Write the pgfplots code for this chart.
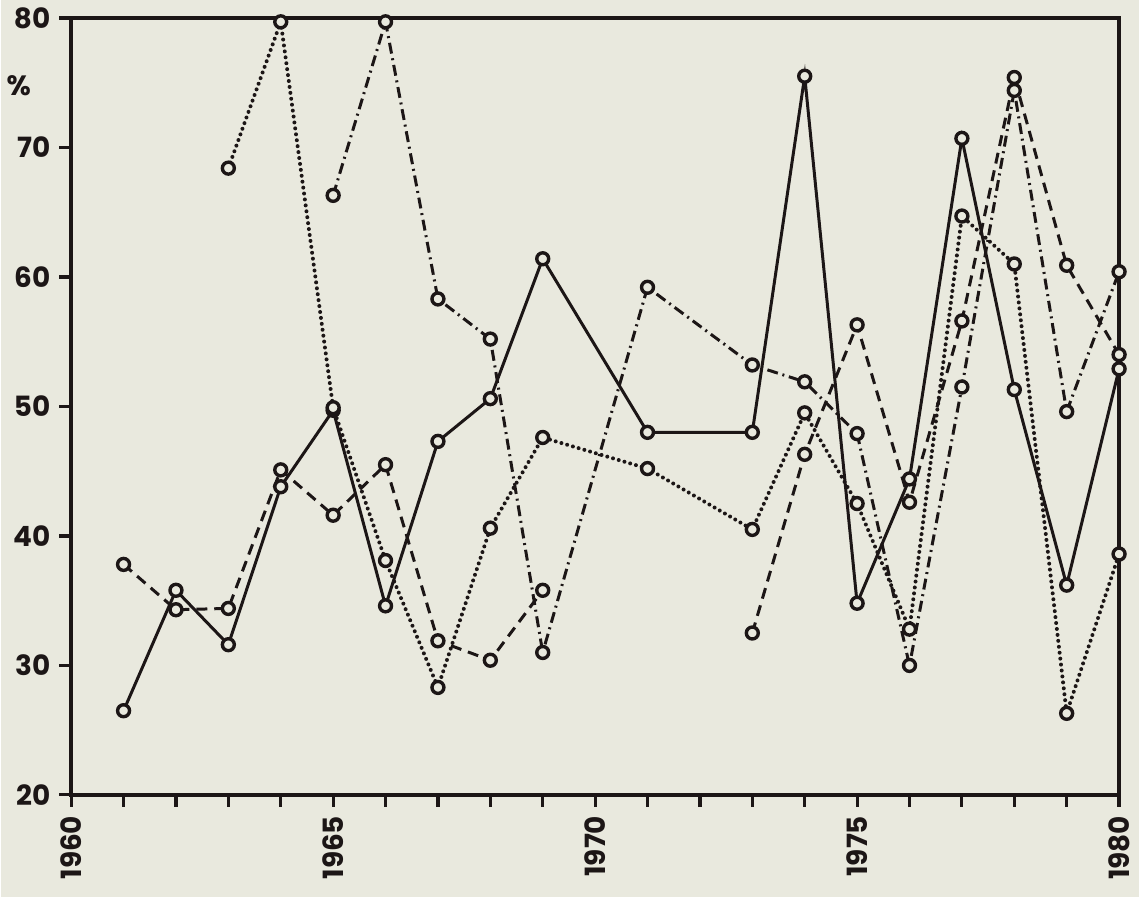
\documentclass[border=0pt]{standalone}
\usepackage{fontspec}
\setmainfont{Poppins}
\usepackage{pgfplots}
\pgfplotsset{compat=1.18}
\definecolor{paper}{RGB}{233,233,222}
\definecolor{ink}{RGB}{28,22,22}
\tikzset{ser/.style={line width=1.5pt, draw=ink, mark=*, mark size=3.0pt,
     mark options={solid, fill=paper, draw=ink, line width=1.7pt}}}
\begin{document}
\begin{tikzpicture}
\fill[paper] (-35pt,-51.5pt) rectangle (536pt,399pt);
\begin{axis}[
  scale only axis, width=526pt, height=390pt,
  xmin=1960, xmax=1980, ymin=20, ymax=80,
  axis line style={line width=1.8pt, draw=ink},
  xtick={1960,1965,1970,1975,1980},
  minor xtick={1961,1962,1963,1964,1966,1967,1968,1969,1971,1972,1973,1974,1976,1977,1978,1979},
  ytick={20,30,40,50,60,70,80},
  tick align=outside, xtick pos=bottom, ytick pos=left,
  major tick length=6pt, minor tick length=6pt,
  every tick/.style={line width=1.6pt, draw=ink},
  minor tick style={line width=1.6pt, draw=ink},
  /pgf/number format/assume math mode=true,
  /pgf/number format/1000 sep={},
  ticklabel style={font=\fontsize{14}{16}\bfseries, text=ink},
  xticklabel style={rotate=90, anchor=east, xshift=-1pt},
  yticklabel style={xshift=-1pt},
  clip=false,
]
% solid
\addplot[ser] coordinates {(1961,26.5) (1962,35.8) (1963,31.6) (1964,43.8) (1965,49.7) (1966,34.6) (1967,47.3) (1968,50.6) (1969,61.4) (1971,48.0) (1973,48.0) (1974,75.5) (1975,34.8) (1976,44.4) (1977,70.7) (1978,51.3) (1979,36.2) (1980,52.9)};
% dashed
\addplot[ser, dash pattern=on 5.5pt off 3.5pt] coordinates {(1961,37.8) (1962,34.3) (1963,34.4) (1964,45.1) (1965,41.6) (1966,45.5) (1967,31.9) (1968,30.4) (1969,35.8)};
\addplot[ser, dash pattern=on 5.5pt off 3.5pt] coordinates {(1973,32.5) (1974,46.3) (1975,56.3) (1976,42.6) (1977,56.6) (1978,75.4) (1979,60.9) (1980,54.0)};
% dotted
\addplot[ser, line width=2pt, line cap=round, dash pattern=on 0pt off 3pt] coordinates {(1963,68.4) (1964,79.7) (1965,49.9) (1966,38.1) (1967,28.3) (1968,40.6) (1969,47.6) (1971,45.2) (1973,40.5) (1974,49.5) (1975,42.5) (1976,32.8) (1977,64.7) (1978,61.0) (1979,26.3) (1980,38.6)};
% dash-dot
\addplot[ser, dash pattern=on 5.5pt off 2.4pt on 1pt off 2.4pt] coordinates {(1965,66.3) (1966,79.7) (1967,58.3) (1968,55.2) (1969,31.0) (1971,59.2) (1973,53.2) (1974,51.9) (1975,47.9) (1976,30.0) (1977,51.5) (1978,74.4) (1979,49.6) (1980,60.4)};
\node[font=\fontsize{14}{16}\bfseries, text=ink] at (axis cs:1959.0,74.8) {\%};
\end{axis}
\end{tikzpicture}
\end{document}
